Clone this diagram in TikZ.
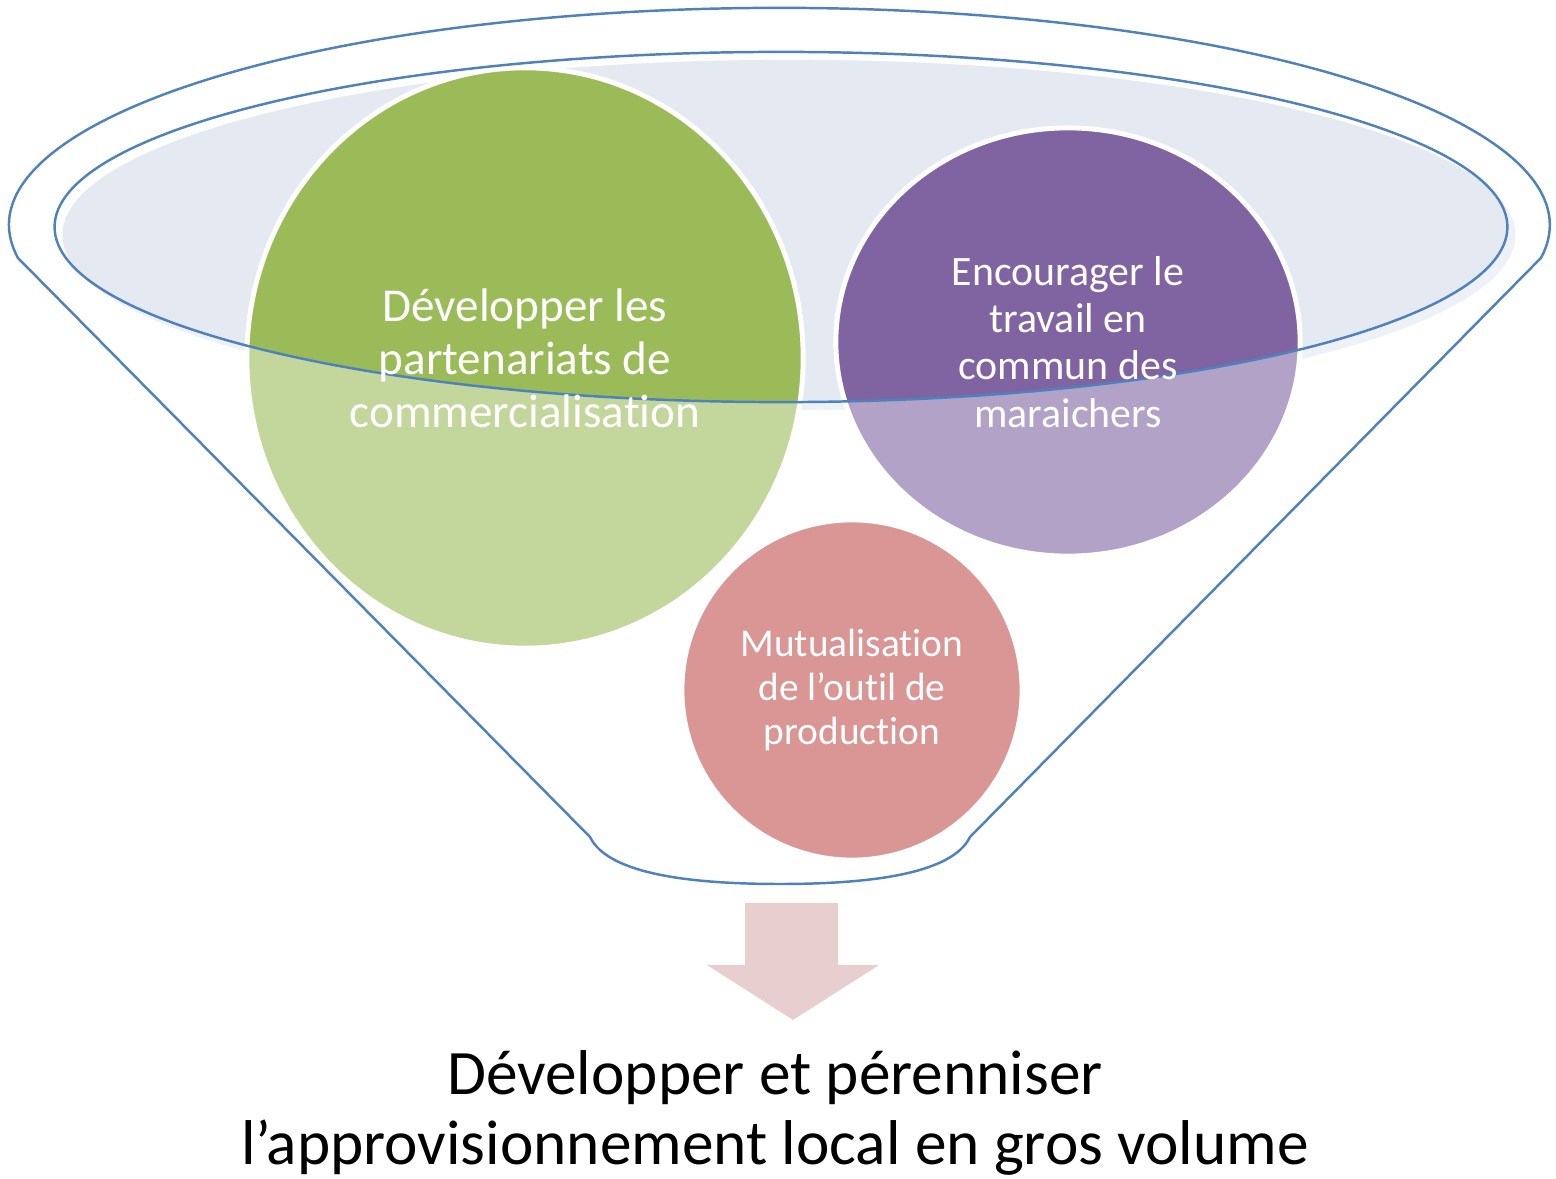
\documentclass[tikz,border=0pt]{standalone}
\usepackage{fontspec}
\setmainfont{Carlito}[Ligatures=NoCommon]
\usetikzlibrary{positioning}
\definecolor{rimblue}{HTML}{4F81BD}
\definecolor{rimfill}{HTML}{E4E9F2}
\definecolor{rimshade}{HTML}{EEF1F7}
\definecolor{greendark}{HTML}{9BBB59}
\definecolor{greenlight}{HTML}{C3D69B}
\definecolor{purpledark}{HTML}{8064A2}
\definecolor{purplelight}{HTML}{B2A2C7}
\definecolor{pinklight}{HTML}{D99694}
\definecolor{arrowpink}{HTML}{E7CFCF}
\tikzset{
	rim/.style={draw=rimblue, line width=0.7pt},
	bubble/.style={draw=white, line width=1.4pt},
	bubbletext/.style={text=white, align=center, inner sep=0pt}
}

\begin{document}
\begin{tikzpicture}[x=0.01cm, y=-0.01cm]
		\useasboundingbox (0,0) rectangle (1556,1179);

		% funnel body with the outer rim
		\draw[rim, fill=white] (18,258) arc[start angle=188.75, end angle=-8.75, x radius=7.70cm, y radius=2.17cm]
			-- (970,837) .. controls (952,874) and (870,884) .. (780,884)
			.. controls (690,884) and (608,874) .. (590,837) -- cycle;

		% inner rim, shaded
		\fill[rimshade] (789,235) ellipse [x radius=7.26cm, y radius=1.75cm];
		\begin{scope}
			\clip (781,227) ellipse [x radius=7.26cm, y radius=1.75cm];
			\fill[rimfill] (789,235) ellipse [x radius=7.26cm, y radius=1.75cm];
		\end{scope}

		% bubbles, pale outside the rim
		\fill[greenlight]  (525,358)  ellipse [x radius=2.78cm, y radius=2.90cm];
		\fill[purplelight] (1068,342) ellipse [x radius=2.32cm, y radius=2.14cm];
		\fill[pinklight]   (852,690)  circle [radius=1.70cm];
		\begin{scope}
			\clip (781,227) ellipse [x radius=7.26cm, y radius=1.75cm];
			\fill[greendark]  (525,358)  ellipse [x radius=2.78cm, y radius=2.90cm];
			\fill[purpledark] (1068,342) ellipse [x radius=2.32cm, y radius=2.14cm];
		\end{scope}
		\draw[bubble] (525,358)  ellipse [x radius=2.78cm, y radius=2.90cm];
		\draw[bubble] (1068,342) ellipse [x radius=2.32cm, y radius=2.14cm];
		\draw[bubble] (852,690)  circle [radius=1.70cm];

		\draw[rim] (781,227) ellipse [x radius=7.26cm, y radius=1.75cm];

		% texts
		\node[bubbletext, font=\fontsize{13.4}{15.1}\selectfont] (partners) at (525,358)
			{Développer les\\partenariats de\\commercialisation};
		\node[bubbletext, font=\fontsize{11.9}{13.4}\selectfont] (teamwork) at (1068,342)
			{Encourager le\\travail en\\commun des\\maraichers};
		\node[bubbletext, font=\fontsize{11.2}{12.5}\selectfont] (sharing) at (852,690)
			{Mutualisation\\de l’outil de\\production};

		% output arrow
		\coordinate (spout) at (792,903);
		\fill[arrowpink] (745,903) -- (838,903) -- (838,965) -- (879,965) -- (793,1020)
			-- (707,965) -- (745,965) -- cycle;

		\node[align=center, inner sep=0pt, font=\fontsize{18}{19.9}\selectfont] (goal) at (775,1113)
			{Développer et pérenniser\\l’approvisionnement local en gros volume};
	\end{tikzpicture}
\end{document}
